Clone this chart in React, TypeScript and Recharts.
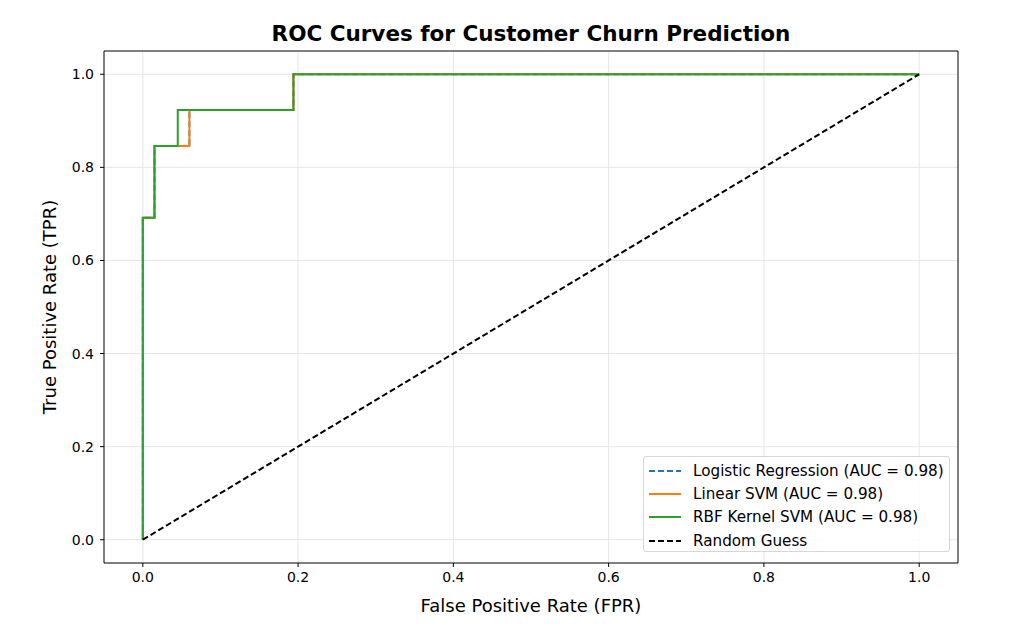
import React from 'react';
import { LineChart, Line, XAxis, YAxis, CartesianGrid, ReferenceArea } from 'recharts';

const ticks = [0, 0.2, 0.4, 0.6, 0.8, 1.0];

const logFpr = [0, 0, 0.015, 0.015, 0.06, 0.06, 0.194, 0.194, 1];
const logTpr = [0, 0.692, 0.692, 0.846, 0.846, 0.923, 0.923, 1, 1];

const linFpr = [0, 0, 0.015, 0.015, 0.06, 0.06, 0.194, 0.194, 1];
const linTpr = [0, 0.692, 0.692, 0.846, 0.846, 0.923, 0.923, 1, 1];

const rbfFpr = [0, 0, 0.015, 0.015, 0.045, 0.045, 0.194, 0.194, 1];
const rbfTpr = [0, 0.692, 0.692, 0.846, 0.846, 0.923, 0.923, 1, 1];

const guessFpr = [0, 1];
const guessTpr = [0, 1];

const toPoints = (xs: number[], ys: number[]) => xs.map((x, i) => ({ fpr: x, tpr: ys[i] }));

const series = [
  { name: 'Logistic Regression (AUC = 0.98)', data: toPoints(logFpr, logTpr), color: '#1f77b4', dash: '6 3' },
  { name: 'Linear SVM (AUC = 0.98)', data: toPoints(linFpr, linTpr), color: '#ff7f0e', dash: undefined },
  { name: 'RBF Kernel SVM (AUC = 0.98)', data: toPoints(rbfFpr, rbfTpr), color: '#2ca02c', dash: undefined },
  { name: 'Random Guess', data: toPoints(guessFpr, guessTpr), color: '#000000', dash: '6 3' },
];

const font = '"DejaVu Sans", sans-serif';
const fmt = (v: number) => v.toFixed(1);

function LegendBox() {
  return (
    <div
      style={{
        position: 'absolute',
        left: 643,
        top: 456,
        width: 307,
        height: 96,
        boxSizing: 'border-box',
        background: 'rgba(255,255,255,0.8)',
        border: '1px solid #d6d6d6',
        borderRadius: 3,
        padding: '2px 0 0 4px',
        fontFamily: font,
        fontSize: 15.2,
        color: '#000',
      }}
    >
      {series.map((s) => (
        <div key={s.name} style={{ display: 'flex', alignItems: 'center', height: 23.3, whiteSpace: 'nowrap' }}>
          <svg width={34} height={10} style={{ marginRight: 11 }}>
            <line x1={1} y1={5} x2={33} y2={5} stroke={s.color} strokeWidth={2} strokeDasharray={s.dash} />
          </svg>
          <span>{s.name}</span>
        </div>
      ))}
    </div>
  );
}

export default function App() {
  return (
    <div style={{ position: 'absolute', left: 0, top: 0, width: 1009, height: 631, background: '#fff' }}>
      <div
        style={{
          position: 'absolute',
          left: 104,
          width: 854,
          top: 21,
          textAlign: 'center',
          fontFamily: font,
          fontWeight: 'bold',
          fontSize: 21.5,
          lineHeight: '26px',
          color: '#000',
        }}
      >
        ROC Curves for Customer Churn Prediction
      </div>
      <LineChart width={1009} height={631} margin={{ top: 51, right: 51, left: 44, bottom: 38 }}>
        <CartesianGrid stroke="#e6e6e6" strokeWidth={1} horizontalValues={ticks} verticalValues={ticks} />
        <XAxis
          type="number"
          dataKey="fpr"
          domain={[-0.05, 1.05]}
          ticks={ticks}
          tickFormatter={fmt}
          height={30}
          tickSize={4}
          tickMargin={5}
          axisLine={false}
          tickLine={{ stroke: '#000' }}
          tick={{ fill: '#000', fontSize: 14, fontFamily: font }}
          label={{ value: 'False Positive Rate (FPR)', position: 'bottom', offset: 6, fill: '#000', fontSize: 18, fontFamily: font }}
          allowDataOverflow
        />
        <YAxis
          type="number"
          dataKey="tpr"
          domain={[-0.05, 1.05]}
          ticks={ticks}
          tickFormatter={fmt}
          width={60}
          tickSize={4}
          tickMargin={6}
          axisLine={false}
          tickLine={{ stroke: '#000' }}
          tick={{ fill: '#000', fontSize: 14, fontFamily: font }}
          label={{ value: 'True Positive Rate (TPR)', angle: -90, position: 'insideLeft', offset: 0, dx: 6, fill: '#000', fontSize: 18, fontFamily: font, style: { textAnchor: 'middle' } }}
          allowDataOverflow
        />
        {series.map((s) => (
          <Line
            key={s.name}
            data={s.data}
            dataKey="tpr"
            name={s.name}
            type="linear"
            stroke={s.color}
            strokeWidth={2}
            strokeDasharray={s.dash}
            dot={false}
            activeDot={false}
            isAnimationActive={false}
          />
        ))}
        <ReferenceArea x1={-0.05} x2={1.05} y1={-0.05} y2={1.05} fill="none" stroke="#000" strokeWidth={1} ifOverflow="visible" />
      </LineChart>
      <LegendBox />
    </div>
  );
}
